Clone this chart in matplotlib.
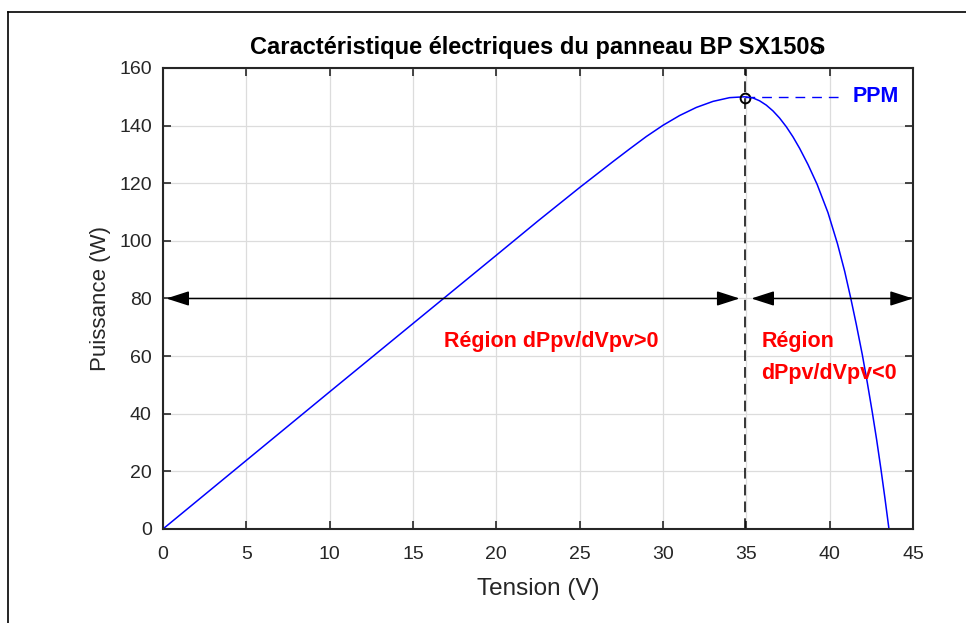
import matplotlib
matplotlib.use('Agg')
import matplotlib.pyplot as plt
from matplotlib.lines import Line2D

# tension (V) and puissance (W)
tension = [0, 5, 10, 15, 20, 22.5, 25, 26, 27, 28, 29, 30, 31, 32, 33, 34, 34.9,
           35.4, 35.8, 36.2, 36.6, 37.0, 37.4, 37.8, 38.2, 38.7, 39.25, 39.9, 40.47, 40.9,
           41.26, 41.6, 41.96, 42.26, 42.56, 42.82, 43.08, 43.32, 43.56]
puissance = [0, 23.8, 47.6, 71.3, 95, 106.9, 118.5, 123, 127.5, 131.9, 136.2, 140.1, 143.5, 146.3, 148.4, 149.7, 150,
             149.6, 148.6, 147.1, 145.1, 142.6, 139.6, 136.1, 132.1, 126.5, 119.6, 109.8, 99, 89.5,
             80.3, 71, 60.5, 50.8, 40.5, 31, 20.7, 10.6, 0]

v_ppm, p_ppm = 34.9, 149.6
xticks = [0, 5, 10, 15, 20, 25, 30, 35, 40, 45]
yticks = [0, 20, 40, 60, 80, 100, 120, 140, 160]

plt.rcParams['font.family'] = ['Liberation Sans', 'DejaVu Sans']

fig = plt.figure(figsize=(9.66, 6.23), dpi=100)
ax = fig.add_axes([0.1687, 0.1509, 0.9451 - 0.1687, 0.8909 - 0.1509])

ax.plot(tension, puissance, color='blue', lw=1.1)
ax.axvline(v_ppm, color='black', ls=(0, (7, 4)), lw=1.1)
ax.plot([v_ppm], [p_ppm], 'o', mfc='none', mec='black', ms=7, mew=1.4)
ax.plot([v_ppm, 40.8], [150, 150], color='blue', ls=(0, (7, 5)), lw=1)
ax.text(41.4, 150, 'PPM', color='blue', fontsize=15.5, fontweight='bold', va='center')

# stray marker above the axes
ax.plot([39.1], [166.6], 'o', mfc='none', mec='black', ms=6, mew=1, clip_on=False)

arrow = dict(arrowstyle='<|-|>,head_length=1.4,head_width=0.45', color='black', lw=1.1,
             shrinkA=0, shrinkB=0)
ax.annotate('', xy=(0.2, 80), xytext=(34.6, 80), arrowprops=arrow)
ax.annotate('', xy=(35.3, 80), xytext=(45, 80), arrowprops=arrow, annotation_clip=False)

ax.text(23.3, 64.9, 'Région dPpv/dVpv>0', color='red', fontsize=15.5, fontweight='bold',
        ha='center', va='center')
ax.text(35.9, 64.9, 'Région', color='red', fontsize=15.5, fontweight='bold', va='center')
ax.text(35.9, 54.1, 'dPpv/dVpv<0', color='red', fontsize=15.5, fontweight='bold', va='center')

ax.set_xlim(0, 45)
ax.set_ylim(0, 160)
ax.set_xticks(xticks)
ax.set_yticks(yticks)
ax.tick_params(direction='in', top=True, right=True, length=6, width=1.2,
               labelsize=14, colors='#262626', pad=8)
ax.tick_params(axis='x', pad=12)
ax.grid(True, color='#dcdcdc', lw=0.9)
ax.set_axisbelow(True)
for s in ax.spines.values():
    s.set_linewidth(1.5)
    s.set_color('#262626')

ax.set_xlabel('Tension (V)', fontsize=17.5, color='#262626', labelpad=11)
ax.set_ylabel('Puissance (W)', fontsize=16, color='#262626', labelpad=6)
ax.set_title('Caractéristique électriques du panneau BP SX150S', fontsize=17,
             fontweight='bold', pad=10)

# outer frame (left and top edges)
fig.add_artist(Line2D([8 / 966, 8 / 966], [0, 1 - 12 / 623], color='black', lw=1.2))
fig.add_artist(Line2D([8 / 966, 1], [1 - 12 / 623, 1 - 12 / 623], color='black', lw=1.2))

plt.savefig('out.png', dpi=100)
plt.close()
